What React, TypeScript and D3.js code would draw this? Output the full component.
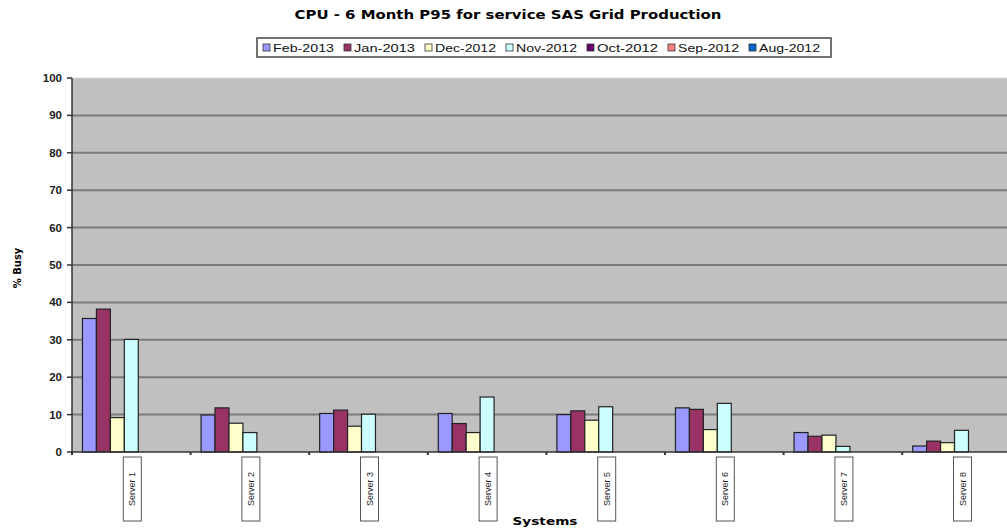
import React from "react";
import * as d3 from "d3";

const servers = ["Server 1", "Server 2", "Server 3", "Server 4", "Server 5", "Server 6", "Server 7", "Server 8"];
const seriesNames = ["Feb-2013", "Jan-2013", "Dec-2012", "Nov-2012", "Oct-2012", "Sep-2012", "Aug-2012"];
const seriesColors = ["#9999FF", "#993366", "#FFFFCC", "#CCFFFF", "#660066", "#FF8080", "#0066CC"];
const feb2013 = [35.7, 9.9, 10.3, 10.3, 10.0, 11.8, 5.2, 1.6];
const jan2013 = [38.2, 11.8, 11.2, 7.6, 11.0, 11.4, 4.2, 2.9];
const dec2012 = [9.2, 7.7, 6.9, 5.2, 8.5, 6.0, 4.5, 2.5];
const nov2012 = [30.1, 5.2, 10.1, 14.7, 12.1, 13.0, 1.5, 5.8];
const oct2012: (number | null)[] = [null, null, null, null, null, null, null, null];
const sep2012: (number | null)[] = [null, null, null, null, null, null, null, null];
const aug2012: (number | null)[] = [null, null, null, null, null, null, null, null];
const seriesValues = [feb2013, jan2013, dec2012, nov2012, oct2012, sep2012, aug2012];
const yTicks = [0, 10, 20, 30, 40, 50, 60, 70, 80, 90, 100];

const W = 1007;
const H = 529;
const plotLeft = 72;
const plotTop = 78;
const plotBottom = 452;
const catW = 118.6;

export default function App() {
  const x = d3.scaleBand<string>().domain(servers).range([plotLeft, plotLeft + catW * servers.length]).paddingInner(0).paddingOuter(0);
  const y = d3.scaleLinear().domain([0, 100]).range([plotBottom, plotTop]);
  const bw = x.bandwidth();
  const barW = bw / (seriesNames.length + 1.5);
  const gap = (bw - barW * seriesNames.length) / 2;
  const font = "'Liberation Sans', Arial, sans-serif";
  const heavy = "'DejaVu Sans', 'Liberation Sans', sans-serif";

  // legend layout
  const legendX = 257;
  const legendY = 38;
  const legendW = 574;
  const legendH = 19;
  const itemW = 81;

  return (
    <svg width={W} height={H} style={{ position: "absolute", left: 0, top: 0 }} fontFamily={font}>
      <rect x={0} y={0} width={W} height={H} fill="#ffffff" />
      <text x={508} y={19} textAnchor="middle" fontSize={13} fontWeight="bold" fontFamily={heavy} fill="#000"
        textLength={427} lengthAdjust="spacingAndGlyphs">
        CPU - 6 Month P95 for service SAS Grid Production
      </text>
      {/* legend */}
      <rect x={legendX} y={legendY} width={legendW} height={legendH} fill="#fff" stroke="#444" strokeWidth={1.5} />
      {seriesNames.map((s, i) => (
        <g key={s} transform={`translate(${legendX + 6 + i * itemW},${legendY + legendH / 2})`}>
          <rect x={0} y={-3.5} width={7} height={7} fill={seriesColors[i]} stroke="#333" strokeWidth={0.8} />
          <text x={10} y={4} fontSize={11} fill="#111" textLength={61} lengthAdjust="spacingAndGlyphs">{s}</text>
        </g>
      ))}
      {/* plot area */}
      <rect x={plotLeft} y={plotTop} width={W - plotLeft} height={plotBottom - plotTop} fill="#C0C0C0" />
      {yTicks.map((t) => (
        <g key={t}>
          {t > 0 && t < 100 && (
            <line x1={plotLeft} x2={W} y1={y(t)} y2={y(t)} stroke="#7a7a7a" strokeWidth={2} />
          )}
          <line x1={plotLeft - 5} x2={plotLeft} y1={y(t)} y2={y(t)} stroke="#333" strokeWidth={1.5} />
          <text x={plotLeft - 10} y={y(t) + 4} textAnchor="end" fontSize={11.5} fontWeight="bold" fill="#222">
            {t}
          </text>
        </g>
      ))}
      <line x1={plotLeft} x2={W} y1={plotTop} y2={plotTop} stroke="#d8d8d8" strokeWidth={1} />
      {/* bars */}
      {servers.map((srv, ci) => (
        <g key={srv}>
          {seriesValues.map((vals, si) => {
            const v = vals[ci];
            if (v == null) return null;
            const bx = (x(srv) as number) + gap + si * barW;
            return (
              <rect
                key={si}
                x={bx}
                y={y(v)}
                width={barW}
                height={y(0) - y(v)}
                fill={seriesColors[si]}
                stroke="#222"
                strokeWidth={1.2}
              />
            );
          })}
        </g>
      ))}
      {/* axes */}
      <line x1={plotLeft} x2={plotLeft} y1={plotTop} y2={plotBottom} stroke="#333" strokeWidth={1.5} />
      <line x1={plotLeft} x2={W} y1={plotBottom} y2={plotBottom} stroke="#333" strokeWidth={1.5} />
      {servers.map((srv) => (
        <line key={srv} x1={(x(srv) as number)} x2={(x(srv) as number)} y1={plotBottom} y2={plotBottom + 3} stroke="#333" strokeWidth={2} />
      ))}
      {/* category labels */}
      {servers.map((srv) => {
        const cx = (x(srv) as number) + bw / 2 + 1;
        return (
          <g key={srv}>
            <rect x={cx - 9} y={457} width={18} height={64} fill="#fff" stroke="#555" strokeWidth={1} />
            <text transform={`translate(${cx + 3},489) rotate(-90)`} textAnchor="middle" fontSize={9} fill="#222">
              {srv}
            </text>
          </g>
        );
      })}
      <text x={545} y={525} textAnchor="middle" fontSize={11} fontWeight="bold" fontFamily={heavy} fill="#000"
        textLength={65} lengthAdjust="spacingAndGlyphs">Systems</text>
      <text transform={`translate(21,268) rotate(-90)`} textAnchor="middle" fontSize={10} fontWeight="bold" fontFamily={heavy} fill="#000">% Busy</text>
    </svg>
  );
}
